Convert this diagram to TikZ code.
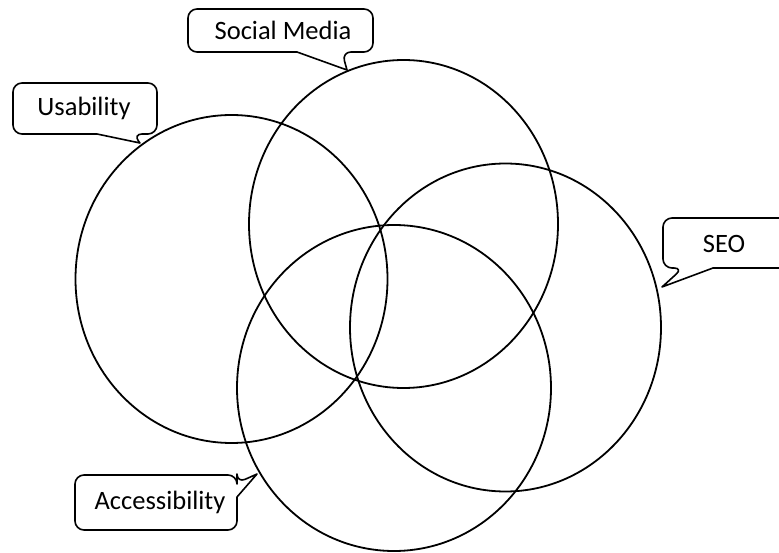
\documentclass[tikz,border=0pt]{standalone}
\usepackage{fontspec}
\setmainfont{Carlito}
\usetikzlibrary{shapes.geometric}
\begin{document}
\begin{tikzpicture}[x=1pt,y=-1pt,
  venn/.style={draw, ellipse, line width=1.8pt, inner sep=0pt, minimum width=312pt, minimum height=328pt},
  calltext/.style={font=\fontsize{26.5pt}{30pt}\selectfont, inner sep=0pt},
  callout/.style={draw, line width=1.6pt, line join=round}
]
\clip (0,0) rectangle (779,553);
\fill[white] (0,0) rectangle (779,553);

% circles
\node[venn] (usab) at (231.5,279) {};
\node[venn, minimum width=309pt] (social) at (403.5,224) {};
\node[venn, minimum width=311pt] (seo) at (505.5,327.5) {};
\node[venn, minimum width=314pt, minimum height=326pt] (access) at (394,388) {};

% callout texts
\node[calltext] (tsocial) at (283,30.5) {Social Media};
\node[calltext] (tusab) at (84,108) {Usability};
\node[calltext] (tseo) at (724,244) {SEO};
\node[calltext] (taccess) at (160,502.5) {Accessibility};

% pointer tips
\coordinate (psocial) at (347,70);
\coordinate (pusab) at (140,143);
\coordinate (pseo) at (662,287);
\coordinate (paccess) at (257,474);

% Social Media callout
\draw[callout] (240,9) [rounded corners=9pt] -- (373,9) -- (373,52) -- (342,52)
  [sharp corners] -- (psocial) -- (297,52) [rounded corners=9pt] -- (188,52) -- (188,9) -- cycle;

% Usability callout
\draw[callout] (80,83) [rounded corners=9pt] -- (157,83) -- (157,134) -- (133,134)
  [sharp corners] -- (pusab) -- (97,134) [rounded corners=9pt] -- (13,134) -- (13,83) -- cycle;

% SEO callout
\draw[callout] (740,218) [rounded corners=9pt] -- (663,218) -- (663,268) -- (683,268)
  [sharp corners] -- (pseo) -- (713,268) [rounded corners=9pt] -- (795,268) -- (795,218) -- cycle;

% Accessibility callout
\draw[callout] (150,475) [rounded corners=9pt] -- (237,475) -- (237,483)
  [sharp corners] -- (paccess) -- (237,497) [rounded corners=9pt] -- (237,530) -- (75,530) -- (75,475) -- cycle;
\end{tikzpicture}
\end{document}
